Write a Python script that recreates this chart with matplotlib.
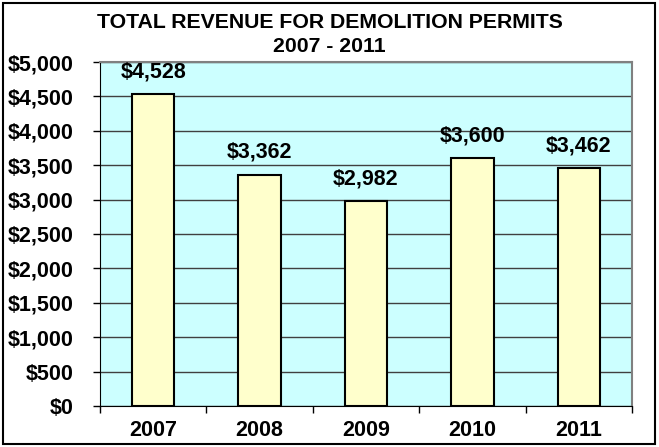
import matplotlib
matplotlib.use('Agg')
import matplotlib.pyplot as plt
from matplotlib.patches import Rectangle

years = ['2007', '2008', '2009', '2010', '2011']
revenue = [4528, 3362, 2982, 3600, 3462]
yticks = [0, 500, 1000, 1500, 2000, 2500, 3000, 3500, 4000, 4500, 5000]

plt.rcParams['font.family'] = ['Liberation Sans', 'DejaVu Sans']
plt.rcParams['font.weight'] = 'bold'
FS = 15.5

fig = plt.figure(figsize=(6.59, 4.47), dpi=100)
ax = fig.add_axes([100/659, 1 - 406/447, 532/659, 344/447])

# outer frame of the chart
fig.patches.append(Rectangle((3/659, 3/447), 652/659, 441/447, transform=fig.transFigure,
                             fill=False, edgecolor='black', linewidth=1.5))

ax.set_facecolor('#ccffff')
x = range(len(years))
ax.bar(x, revenue, width=0.4, color='#ffffcc', edgecolor='black', linewidth=1.5, zorder=3)

for i, v in enumerate(revenue):
    ax.annotate('${:,}'.format(v), (i, v), xytext=(0, 16), textcoords='offset points',
                ha='center', va='center', fontsize=FS, fontweight='bold')

ax.set_xlim(-0.5, 4.5)
ax.set_ylim(0, 5000)
ax.set_yticks(yticks)
ax.set_yticklabels(['${:,}'.format(t) for t in yticks], fontsize=FS, fontweight='bold')
ax.set_xticks(x)
ax.set_xticklabels(years, fontsize=FS, fontweight='bold')
ax.set_xticks([i + 0.5 for i in range(-1, 5)], minor=True)
ax.tick_params(axis='x', which='major', length=0, pad=10)
ax.tick_params(axis='x', which='minor', length=5, direction='out', width=1)
ax.tick_params(axis='y', length=5, direction='out', width=1, pad=14)
ax.grid(axis='y', color='#404040', linewidth=1, zorder=0)
ax.set_axisbelow(True)

for s in ['top', 'right']:
    ax.spines[s].set_color('#808080')
    ax.spines[s].set_linewidth(1.5)
ax.spines['left'].set_color('black')
ax.spines['bottom'].set_color('black')

fig.text(0.5, 1 - 22/447, 'TOTAL REVENUE FOR DEMOLITION PERMITS', ha='center', va='center',
         fontsize=15.3, fontweight='bold')
fig.text(0.5, 1 - 47/447, '2007 - 2011', ha='center', va='center', fontsize=15.3, fontweight='bold')

fig.savefig('out.png', dpi=100)
